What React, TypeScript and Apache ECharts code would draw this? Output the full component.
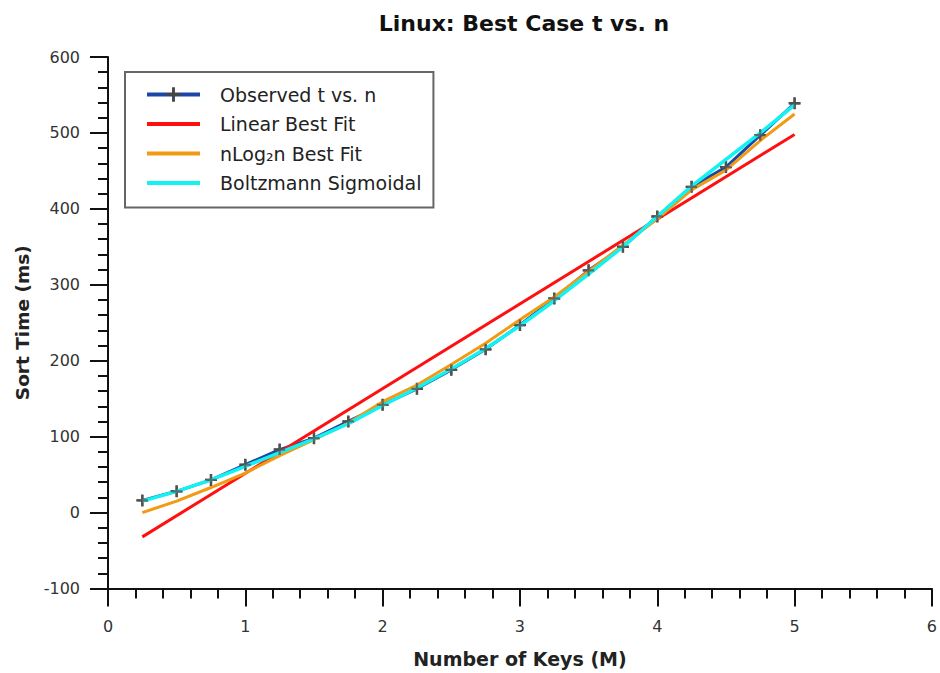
import React, { useEffect, useRef } from "react";
import * as echarts from "echarts";

const keysM = [0.25, 0.5, 0.75, 1.0, 1.25, 1.5, 1.75, 2.0, 2.25, 2.5, 2.75, 3.0, 3.25, 3.5, 3.75, 4.0, 4.25, 4.5, 4.75, 5.0];
const observed = [16, 28, 43, 63, 83, 98, 120, 142, 163, 188, 215, 247, 282, 319, 350, 390, 429, 455, 497, 539];
const linearX = [0.25, 5.0];
const linearY = [-32, 498];
const nlognFit = [0, 15, 33, 52, 75, 96, 118, 146, 168, 195, 223, 254, 284, 318, 352, 387, 425, 451, 490, 525];
const boltzmann = [15, 28, 43, 61, 79, 97, 117, 141, 164, 189, 216, 246, 279, 314, 350, 390, 430, 465, 500, 537];

const seriesNames = ["Observed t vs. n", "Linear Best Fit", "nLog\u2082n Best Fit", "Boltzmann Sigmoidal"];
const xTicks = { min: 0, max: 6, interval: 1 };
const yTicks = { min: -100, max: 600, interval: 100 };

const FONT = "DejaVu Sans";
const PLUS = "path://M4,0h2v4h4v2h-4v4h-2v-4h-4v-2h4z";
const CLEAR = "rgba(0,0,0,0)";

const zip = (xs: number[], ys: number[]) => xs.map((x, i) => [x, ys[i]]);

export default function App() {
  const ref = useRef<HTMLDivElement>(null);
  useEffect(() => {
    document.body.style.margin = "0";
    if (!ref.current) return;
    const chart = echarts.init(ref.current, null, { renderer: "svg" });
    const axisCommon = {
      axisLine: { show: true, onZero: false, lineStyle: { color: "#111", width: 2 } },
      axisTick: { show: true, inside: false, length: 18, lineStyle: { color: "#111", width: 2 } },
      minorTick: { show: true, splitNumber: 5, length: 10, lineStyle: { color: "#111", width: 2 } },
      splitLine: { show: false },
      minorSplitLine: { show: false },
    };
    const fitSeries = (name: string, xs: number[], ys: number[], color: string, width: number, z: number) => ({
      name,
      type: "line",
      data: zip(xs, ys),
      symbol: "circle",
      showSymbol: false,
      lineStyle: { color, width },
      itemStyle: { color: CLEAR, borderColor: CLEAR, borderWidth: 0 },
      z,
    });
    chart.setOption({
      animation: false,
      backgroundColor: "#fff",
      title: {
        text: "Linux: Best Case t vs. n",
        left: 524,
        top: 12,
        padding: 0,
        textAlign: "center",
        textStyle: { fontFamily: FONT, fontWeight: "bold", fontSize: 22, color: "#111" },
      },
      grid: { left: 108, right: 5, top: 57, bottom: 81, containLabel: false },
      legend: {
        orient: "vertical",
        left: 125,
        top: 72,
        data: seriesNames,
        itemWidth: 53,
        itemHeight: 18,
        itemGap: 10.5,
        padding: [13, 12, 15, 20],
        borderColor: "#666",
        borderWidth: 2,
        backgroundColor: "#fff",
        lineStyle: { width: 4 },
        textStyle: { fontFamily: FONT, fontSize: 19, color: "#222", padding: [0, 0, 0, 15] },
      },
      xAxis: {
        type: "value",
        ...xTicks,
        name: "Number of Keys (M)",
        nameLocation: "middle",
        nameGap: 70,
        nameTextStyle: { fontFamily: FONT, fontWeight: "bold", fontSize: 19, color: "#222", verticalAlign: "middle" },
        axisLabel: { fontFamily: FONT, fontSize: 16, color: "#333", margin: 30 },
        ...axisCommon,
      },
      yAxis: {
        type: "value",
        ...yTicks,
        name: "Sort Time (ms)",
        nameLocation: "middle",
        nameGap: 86,
        nameRotate: 90,
        nameTextStyle: { fontFamily: FONT, fontWeight: "bold", fontSize: 18.5, color: "#222", verticalAlign: "middle" },
        axisLabel: { fontFamily: FONT, fontSize: 16, color: "#333", margin: 28 },
        ...axisCommon,
      },
      series: [
        {
          name: seriesNames[0],
          type: "line",
          data: zip(keysM, observed),
          symbol: PLUS,
          symbolSize: 12,
          showSymbol: true,
          lineStyle: { color: "#1c47a6", width: 3 },
          itemStyle: { color: "#444" },
          z: 2,
        },
        fitSeries(seriesNames[1], linearX, linearY, "#ff1010", 3, 3),
        fitSeries(seriesNames[2], keysM, nlognFit, "#f29a12", 3, 4),
        fitSeries(seriesNames[3], keysM, boltzmann, "#12f2f2", 3.5, 5),
        {
          name: "observed-markers",
          type: "scatter",
          data: zip(keysM, observed),
          symbol: PLUS,
          symbolSize: 11,
          itemStyle: { color: "#555", opacity: 0.8 },
          z: 6,
          silent: true,
        },
      ],
    });
    return () => chart.dispose();
  }, []);
  return <div ref={ref} style={{ width: 940, height: 673 }} />;
}
